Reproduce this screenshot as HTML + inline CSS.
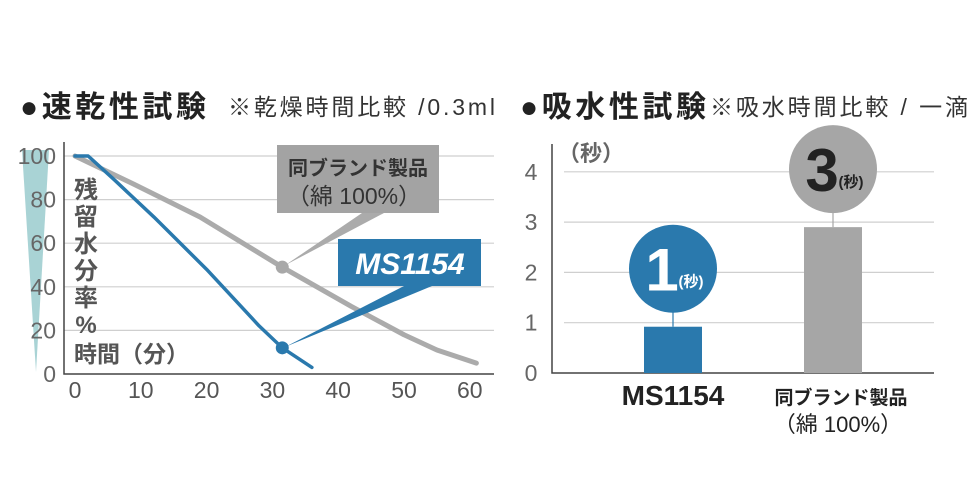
<!DOCTYPE html>
<html><head><meta charset="utf-8"><style>
body{margin:0;background:#fff;}
svg{display:block;font-family:"Liberation Sans","Noto Sans CJK JP",sans-serif;}
</style></head><body>
<svg id="chart" width="980" height="490" viewBox="0 0 980 490">
<g>
<text x="20" y="117" font-size="30" font-weight="bold" fill="#222" textLength="186">●速乾性試験</text>
<text x="228" y="115" font-size="23" fill="#333" textLength="267">※乾燥時間比較 /0.3ml</text>
</g>
<g>
<text x="520" y="117" font-size="30" font-weight="bold" fill="#222" textLength="186">●吸水性試験</text>
<text x="710" y="115" font-size="23" fill="#333" textLength="258">※吸水時間比較 / 一滴</text>
</g>
<polygon points="22,150 49,150 36,372" fill="#a9d3d5"/>
<g id="left"></g>
<g id="right"></g>
</svg>
<script>
const NS="http://www.w3.org/2000/svg";
function mk(tag,attrs,parent,text){const e=document.createElementNS(NS,tag);for(const k in attrs)e.setAttribute(k,attrs[k]);if(text!==undefined)e.textContent=text;parent.appendChild(e);return e;}

// ---- left line chart data ----
const yTicks=[0,20,40,60,80,100];
const xTicks=[0,10,20,30,40,50,60];
const msTime=[0,2,6,12,20,28,31.5,36];
const msValue=[100,100,89,72,48,22,12,3];
const brandTime=[0,9,19,31.5,42,50,55,61];
const brandValue=[100,87,72,49,31,18,11,5];
const markerTime=31.5;

const L=document.getElementById('left');
const xs=t=>75+t*6.58;
const ys=v=>374-v*2.18;
yTicks.forEach(v=>{
  if(v>0){const g=mk('line',{x1:64,x2:494,y1:ys(v),y2:ys(v),stroke:'#cfcfcf','stroke-width':1.2},L);
  
  }
  const t=mk('text',{x:56,y:ys(v)+8,'font-size':23,fill:'#666','text-anchor':'end'},L,String(v));
  
  
});
xTicks.forEach(v=>{
  const t=mk('text',{x:xs(v),y:398,'font-size':23,fill:'#555','text-anchor':'middle'},L,String(v));
  
  
});
const ax=mk('path',{d:'M64,142 V374 H494',fill:'none',stroke:'#444','stroke-width':1.5},L);


const ytitle=['残','留','水','分','率','%'];
ytitle.forEach((c,i)=>{
  const t=mk('text',{x:86,y:198+i*27,'font-size':24,'font-weight':'bold',fill:'#555','text-anchor':'middle'},L,c);
  
  
});
const xt=mk('text',{x:74,y:362,'font-size':23,'font-weight':'bold',fill:'#555'},L,'時間（分）');



function interp(ts,vs,t){for(let i=1;i<ts.length;i++){if(t<=ts[i]){const f=(t-ts[i-1])/(ts[i]-ts[i-1]);return vs[i-1]+f*(vs[i]-vs[i-1]);}}return vs[vs.length-1];}

const bp=mk('polyline',{points:brandTime.map((t,i)=>xs(t)+','+ys(brandValue[i])).join(' '),fill:'none',stroke:'#ababab','stroke-width':5,'stroke-linejoin':'round','stroke-linecap':'round'},L);


const mp=mk('polyline',{points:msTime.map((t,i)=>xs(t)+','+ys(msValue[i])).join(' '),fill:'none',stroke:'#2a79ad','stroke-width':3.5,'stroke-linejoin':'round','stroke-linecap':'round'},L);



const gx=xs(markerTime),gy=ys(interp(brandTime,brandValue,markerTime));
const bx=xs(markerTime),by=ys(interp(msTime,msValue,markerTime));
const gw=mk('polygon',{points:`${gx+3},${gy-2} 362,213 384,213`,fill:'#ababab'},L);


const bw=mk('polygon',{points:`${bx+3},${by-1} 404,286 432,286`,fill:'#2a79ad'},L);


const gd=mk('circle',{cx:gx,cy:gy,r:6.5,fill:'#a8a8a8'},L);


const bd=mk('circle',{cx:bx,cy:by,r:6.5,fill:'#2a79ad'},L);



const gb=mk('rect',{x:277,y:145,width:162,height:68,fill:'#a3a3a3'},L);


const gt1=mk('text',{x:358,y:175,'font-size':20,'font-weight':'bold',fill:'#333','text-anchor':'middle'},L,'同ブランド製品');


const gt2=mk('text',{x:354,y:204,'font-size':23,fill:'#333','text-anchor':'middle'},L,'（綿 100%）');


const bb=mk('rect',{x:338,y:239,width:143,height:47,fill:'#2a79ad'},L);


const bt=mk('text',{x:410,y:274,'font-size':30,'font-weight':'bold',fill:'#fff','text-anchor':'middle','font-style':'italic'},L,'MS1154');



// ---- right bar chart data ----
const barTicks=[0,1,2,3,4];
const barNames=['MS1154','同ブランド製品'];
const barValues=[0.92,2.9];
const bubbleLabels=['1','3'];

const R=document.getElementById('right');
const ry=v=>373-v*50.3;
barTicks.forEach(v=>{
  if(v>0){const g=mk('line',{x1:564,x2:934,y1:ry(v),y2:ry(v),stroke:'#cfcfcf','stroke-width':1.2},R);
  
  }
  const t=mk('text',{x:531,y:ry(v)+8,'font-size':23,fill:'#666','text-anchor':'middle'},R,String(v));
  
  
});
const rax=mk('path',{d:'M552,144 V373 H934',fill:'none',stroke:'#444','stroke-width':1.5},R);


const unit=mk('text',{x:558,y:161,'font-size':22,'font-weight':'bold',fill:'#666'},R,'（秒）');


const colors=['#2a79ad','#a6a6a6'];
const centers=[673,833];
barValues.forEach((v,i)=>{
  const cx=centers[i];
  const r=mk('rect',{x:cx-29,y:ry(v),width:58,height:ry(0)-ry(v),fill:colors[i]},R);
  
  
  const cy=ry(v)-58;
  const ln=mk('line',{x1:cx,x2:cx,y1:cy+40,y2:ry(v),stroke:colors[i],'stroke-width':1.2},R);
  
  
  const c=mk('circle',{cx:cx,cy:cy,r:44,fill:colors[i]},R);
  
  
  const num=mk('text',{x:cx-11,y:cy+22,'font-size':60,'font-weight':'bold',fill:i===0?'#fff':'#222','text-anchor':'middle'},R,bubbleLabels[i]);
  
  
  const u=mk('text',{x:cx+18,y:cy+18,'font-size':15,'font-weight':'bold',fill:i===0?'#fff':'#222','text-anchor':'middle'},R,'(秒)');
  
  
});
const n1=mk('text',{x:673,y:405,'font-size':28,'font-weight':'bold',fill:'#222','text-anchor':'middle'},R,barNames[0]);


const n2=mk('text',{x:841,y:404,'font-size':19,'font-weight':'bold',fill:'#222','text-anchor':'middle'},R,barNames[1]);


const n3=mk('text',{x:838,y:432,'font-size':22,fill:'#222','text-anchor':'middle'},R,'（綿 100%）');


</script>
</body></html>
